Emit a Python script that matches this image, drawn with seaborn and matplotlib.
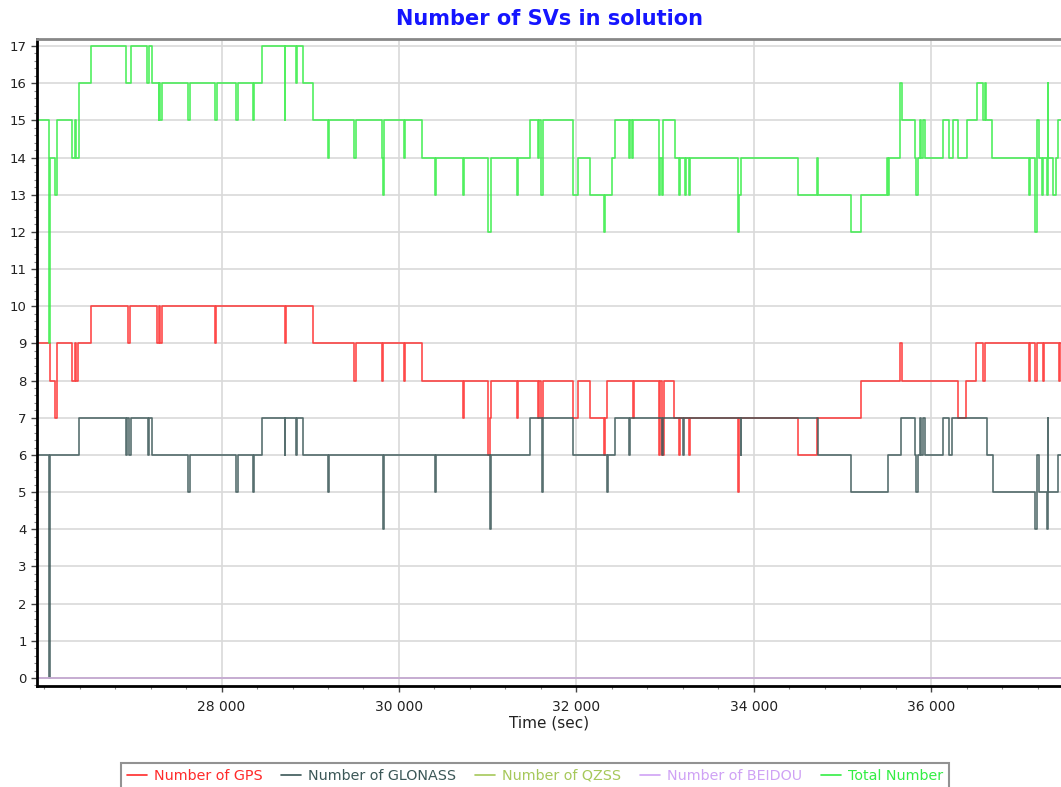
import pandas as pd
import seaborn as sns
import matplotlib.pyplot as plt
from matplotlib.lines import Line2D
from matplotlib.ticker import MultipleLocator, FixedLocator, FuncFormatter

# time window (sec)
t_start, t_end = 25920, 37462
x_ticks = [28000, 30000, 32000, 34000, 36000]

# (start time, count) change points for each system
gps = [(25920, 9), (26070, 8), (26120, 7), (26150, 9), (26310, 8), (26350, 9), (26360, 8), (26380, 9),
       (26530, 10), (26950, 9), (26970, 10), (27270, 9), (27300, 10), (27310, 9), (27330, 10), (27930, 9),
       (27940, 10), (28710, 9), (28730, 10), (29030, 9), (29490, 8), (29510, 9), (29810, 8), (29820, 9),
       (30060, 8), (30070, 9), (30260, 8), (30720, 7), (30730, 8), (31000, 6), (31030, 7), (31040, 8),
       (31330, 7), (31340, 8), (31570, 7), (31580, 8), (31600, 7), (31620, 8), (31960, 7), (32020, 8),
       (32150, 7), (32310, 6), (32320, 7), (32350, 8), (32640, 7), (32650, 8), (32930, 6), (32940, 8),
       (32970, 6), (32990, 8), (33100, 7), (33160, 6), (33170, 7), (33270, 6), (33280, 7), (33820, 5),
       (33830, 7), (34500, 6), (34710, 7), (35210, 8), (35650, 9), (35670, 8), (36300, 7), (36390, 8),
       (36500, 9), (36580, 8), (36600, 9), (37100, 8), (37110, 9), (37170, 8), (37190, 9), (37260, 8),
       (37270, 9), (37440, 8), (37450, 9)]

glonass = [(25920, 6), (26060, 0), (26070, 6), (26390, 7), (26920, 6), (26940, 7), (26960, 6), (26980, 7),
           (27170, 6), (27180, 7), (27220, 6), (27620, 5), (27640, 6), (28160, 5), (28180, 6), (28360, 5),
           (28370, 6), (28460, 7), (28710, 6), (28720, 7), (28840, 6), (28850, 7), (28920, 6), (29200, 5),
           (29210, 6), (29820, 4), (29830, 6), (30410, 5), (30420, 6), (31030, 4), (31040, 6), (31480, 7),
           (31610, 5), (31620, 7), (31960, 6), (32350, 5), (32360, 6), (32440, 7), (32590, 6), (32600, 7),
           (32970, 6), (32980, 7), (33200, 6), (33210, 7), (33850, 6), (33860, 7), (34720, 6), (35100, 5),
           (35510, 6), (35660, 7), (35820, 6), (35830, 5), (35850, 6), (35870, 7), (35880, 6), (35910, 7),
           (35930, 6), (36130, 7), (36200, 6), (36230, 7), (36630, 6), (36690, 5), (37170, 4), (37190, 6),
           (37210, 5), (37300, 4), (37310, 7), (37320, 5), (37430, 6)]

qzss = [(25920, 0)]
beidou = [(25920, 0)]

total = [(25920, 15), (26060, 9), (26070, 14), (26120, 13), (26140, 14), (26150, 15), (26310, 14),
         (26350, 15), (26360, 14), (26390, 16), (26530, 17), (26920, 16), (26980, 17), (27160, 16),
         (27180, 17), (27220, 16), (27290, 15), (27300, 16), (27310, 15), (27330, 16), (27620, 15),
         (27640, 16), (27930, 15), (27950, 16), (28160, 15), (28180, 16), (28360, 15), (28370, 16),
         (28460, 17), (28710, 15), (28720, 17), (28840, 16), (28850, 17), (28920, 16), (29030, 15),
         (29200, 14), (29210, 15), (29490, 14), (29510, 15), (29810, 14), (29820, 13), (29830, 15),
         (30060, 14), (30070, 15), (30260, 14), (30410, 13), (30420, 14), (30720, 13), (30730, 14),
         (31000, 12), (31040, 14), (31330, 13), (31340, 14), (31480, 15), (31570, 14), (31580, 15),
         (31600, 13), (31620, 15), (31960, 13), (32020, 14), (32150, 13), (32310, 12), (32320, 13),
         (32400, 14), (32430, 15), (32590, 14), (32600, 15), (32630, 14), (32640, 15), (32930, 13),
         (32940, 14), (32960, 13), (32980, 15), (33110, 14), (33160, 13), (33170, 14), (33220, 13),
         (33230, 14), (33270, 13), (33280, 14), (33820, 12), (33830, 13), (33850, 14), (34500, 13),
         (34710, 14), (34720, 13), (35100, 12), (35210, 13), (35500, 14), (35510, 13), (35520, 14),
         (35650, 16), (35670, 15), (35820, 14), (35830, 13), (35850, 14), (35870, 15), (35880, 14),
         (35910, 15), (35930, 14), (36130, 15), (36200, 14), (36240, 15), (36300, 14), (36400, 15),
         (36510, 16), (36580, 15), (36600, 16), (36620, 15), (36680, 14), (37100, 13), (37110, 14),
         (37170, 12), (37190, 15), (37210, 14), (37250, 13), (37260, 14), (37300, 13), (37310, 16),
         (37320, 14), (37370, 13), (37410, 14), (37430, 15)]

names = ['Number of GPS', 'Number of GLONASS', 'Number of QZSS', 'Number of BEIDOU', 'Total Number']
colors = ['#ff2a2a', '#3b5757', '#a6c85a', '#cfa2f5', '#33ee44']

rows = []
for name, pts in zip(names, [gps, glonass, qzss, beidou, total]):
    pts = pts + [(t_end, pts[-1][1])]
    for t, v in pts:
        rows.append((name, t, v))
df = pd.DataFrame(rows, columns=['series', 'time', 'count'])

sns.set_theme(style='whitegrid')
plt.rcParams['font.family'] = ['DejaVu Sans']

fig = plt.figure(figsize=(10.61, 7.87), dpi=100)
ax = fig.add_axes([37 / 1061, 1 - 686 / 787, 1024 / 1061, 647 / 787])

sns.lineplot(data=df, x='time', y='count', hue='series', hue_order=names,
             palette=dict(zip(names, colors)), estimator=None, sort=False,
             drawstyle='steps-post', linewidth=1.2, alpha=0.85, legend=False, ax=ax)

ax.set_xlim(t_start, t_end)
ax.set_ylim(-0.215, 17.19)
ax.xaxis.set_major_locator(FixedLocator(x_ticks))
ax.xaxis.set_minor_locator(MultipleLocator(400))
ax.xaxis.set_major_formatter(FuncFormatter(lambda v, p: f'{int(v):,}'.replace(',', ' ')))
ax.yaxis.set_major_locator(MultipleLocator(1))
ax.yaxis.set_minor_locator(MultipleLocator(0.2))
ax.grid(True, which='major', color='#d9d9d9', linewidth=1.2)
ax.grid(False, which='minor')
ax.set_facecolor('white')

ax.tick_params(axis='x', which='major', labelsize=10, pad=6)
ax.tick_params(axis='y', which='major', labelsize=9.5)
ax.tick_params(axis='both', which='major', labelcolor='#222222',
               length=4, width=1, color='#444444', bottom=True, left=True, direction='out')
ax.tick_params(axis='both', which='minor', length=2, width=0.8, color='#888888',
               bottom=True, left=True, direction='out')

for side in ['left', 'bottom']:
    ax.spines[side].set_color('black')
    ax.spines[side].set_linewidth(2)
ax.spines['top'].set_color('#888888')
ax.spines['top'].set_linewidth(2)
ax.spines['right'].set_visible(False)

ax.set_xlabel('Time (sec)', fontsize=11, color='#222222', labelpad=1)
ax.set_ylabel('')
ax.set_title('Number of SVs in solution', color='#1515ff', fontweight='bold', fontsize=15, pad=10)

handles = [Line2D([], [], color=c, linewidth=1.2) for c in colors]
leg = fig.legend(handles, names, loc='upper center', bbox_to_anchor=(535 / 1061, 1 - 756 / 787),
                 ncol=5, frameon=True, fancybox=False, fontsize=10.3, handlelength=1.4,
                 handletextpad=0.5, columnspacing=1.3, borderpad=0.4)
leg.get_frame().set_edgecolor('#777777')
leg.get_frame().set_linewidth(1.5)
for txt, c in zip(leg.get_texts(), colors):
    txt.set_color(c)

fig.savefig('out.png', dpi=100)
